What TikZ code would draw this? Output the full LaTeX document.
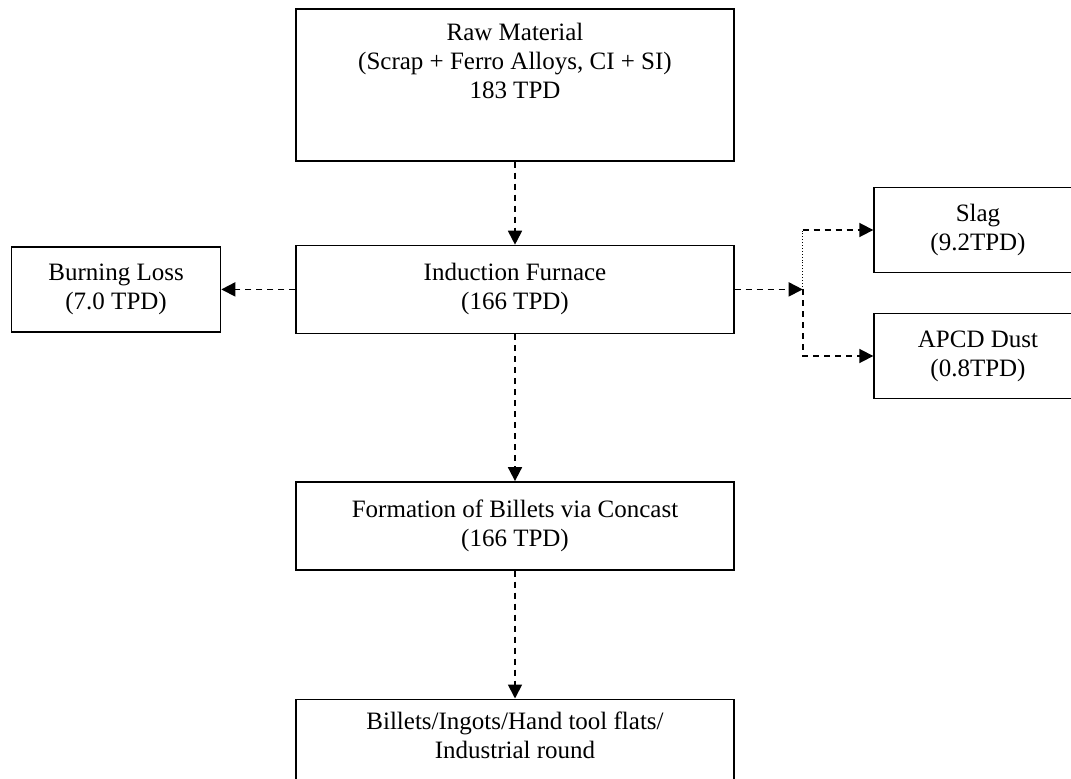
\documentclass[tikz,border=0pt]{standalone}
\usepackage{fontspec}
\setmainfont{Liberation Serif}
\usetikzlibrary{positioning, arrows.meta}

\begin{document}
\begin{tikzpicture}[x=1pt, y=-1pt,
  block/.style={draw, line width=1.4pt, align=center, inner sep=0pt,
    minimum width=438pt, minimum height=88pt, font=\fontsize{25}{29}\selectfont},
  sidebox/.style={block, minimum width=208pt, minimum height=85pt},
  flow/.style={-{Triangle[length=14pt,width=14pt]}, line width=1.8pt, dash pattern=on 6pt off 5pt}]
\useasboundingbox (0,0) rectangle (1071,779);
\node[block, minimum height=152pt, text depth=49pt] (raw) at (515,85) {Raw Material\\(Scrap + Ferro Alloys, CI + SI)\\183 TPD};
\node[block] (furnace) [below=83pt of raw] {Induction Furnace\\(166 TPD)};
\node[sidebox, minimum width=209pt] (burnloss) [left=74pt of furnace] {Burning Loss\\(7.0 TPD)};
\coordinate[right=68pt of furnace.east] (split);
\node[sidebox] (slag) at (978,230) {Slag\\(9.2TPD)};
\node[sidebox] (apcd) at (978,356) {APCD Dust\\(0.8TPD)};
\coordinate (slagturn) at (split |- slag.west);
\node[block] (concast) [below=147pt of furnace] {Formation of Billets via Concast\\(166 TPD)};
\node[block, text depth=16pt] (billets) [below=128pt of concast] {Billets/Ingots/Hand tool flats/\\Industrial round};
\draw[flow] (raw) -- (furnace);
\draw[flow] (furnace) -- (burnloss);
\draw[flow] (furnace) -- (split);
\draw[dotted, line width=0.9pt] (split) -- (slagturn);
\draw[flow] (slagturn) -- (slag);
\draw[flow] (split) |- (apcd);
\draw[flow] (furnace) -- (concast);
\draw[flow] (concast) -- (billets);
\end{tikzpicture}
\end{document}
